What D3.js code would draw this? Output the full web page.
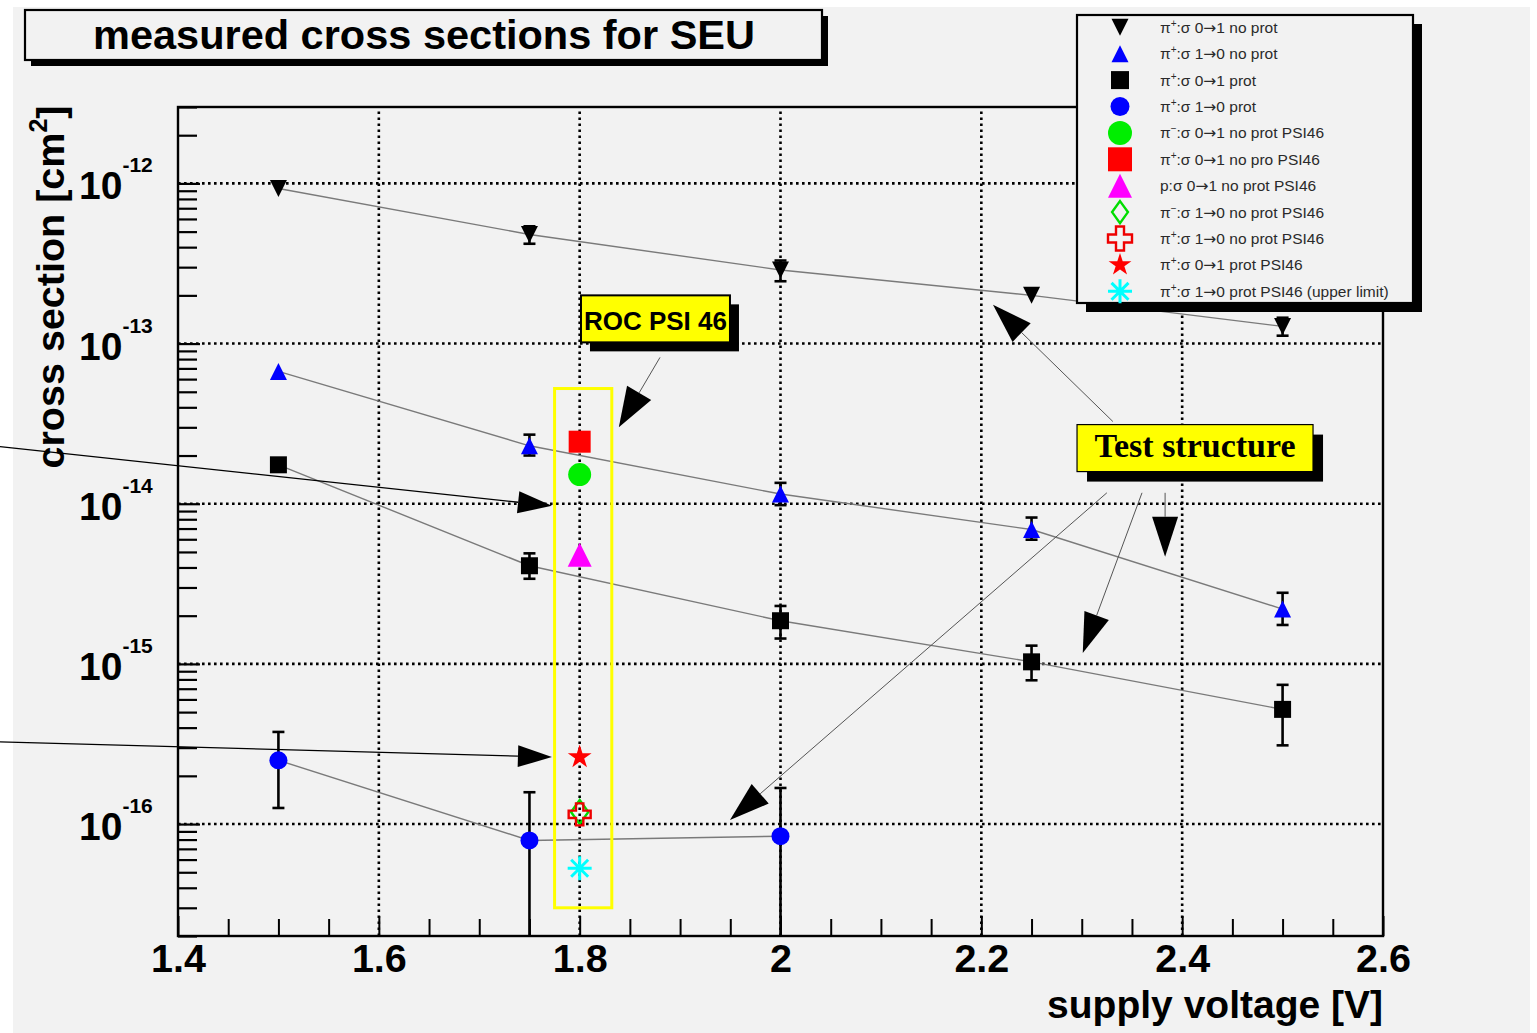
<!DOCTYPE html>
<html>
<head>
<meta charset="utf-8">
<script src="https://cdn.jsdelivr.net/npm/d3@7"></script>
<style>
  html, body { margin: 0; padding: 0; background: #ffffff; }
  svg { display: block; }
</style>
</head>
<body>
<div id="chart"></div>
<script>
// DATA ---------------------------------------------------------------------
const voltages = [1.5, 1.75, 2.0, 2.25, 2.5];

// pi+ : sigma 0->1 no prot
const piPlus01NoProt     = [9.3e-13, 4.8e-13, 2.88e-13, 2.0e-13, 1.28e-13];
const piPlus01NoProtLow  = [null, 4.2e-13, 2.45e-13, null, 1.12e-13];
const piPlus01NoProtHigh = [null, 5.4e-13, 3.3e-13, null, 1.45e-13];

// pi+ : sigma 1->0 no prot
const piPlus10NoProt     = [6.7e-14, 2.3e-14, 1.15e-14, 6.9e-15, 2.2e-15];
const piPlus10NoProtLow  = [null, 2.0e-14, 9.8e-15, 5.96e-15, 1.75e-15];
const piPlus10NoProtHigh = [null, 2.7e-14, 1.35e-14, 8.2e-15, 2.78e-15];

// pi+ : sigma 0->1 prot
const piPlus01Prot     = [1.75e-14, 4.1e-15, 1.86e-15, 1.03e-15, 5.2e-16];
const piPlus01ProtLow  = [null, 3.4e-15, 1.44e-15, 7.9e-16, 3.1e-16];
const piPlus01ProtHigh = [null, 4.9e-15, 2.3e-15, 1.3e-15, 7.4e-16];

// pi+ : sigma 1->0 prot (only three voltages, lower errors run off the axis)
const protVoltages   = [1.5, 1.75, 2.0];
const piPlus10Prot     = [2.5e-16, 7.9e-17, 8.4e-17];
const piPlus10ProtLow  = [1.26e-16, 1e-18, 1e-18];
const piPlus10ProtHigh = [3.76e-16, 1.58e-16, 1.68e-16];

// ROC PSI46 points, all at 1.8 V (legend order)
const psiVoltage = 1.8;
const psiValues = [1.52e-14, 2.44e-14, 4.8e-15, 1.19e-16, 1.15e-16, 2.62e-16, 5.3e-17];

// legend labels (ROOT latex style superscripts)
const legendLabels = [
  "\u03c0^{+}:\u03c3 0\u21921 no prot",
  "\u03c0^{+}:\u03c3 1\u21920 no prot",
  "\u03c0^{+}:\u03c3 0\u21921 prot",
  "\u03c0^{+}:\u03c3 1\u21920 prot",
  "\u03c0^{\u2212}:\u03c3 0\u21921 no prot PSI46",
  "\u03c0^{+}:\u03c3 0\u21921 no pro PSI46",
  "p:\u03c3 0\u21921 no prot PSI46",
  "\u03c0^{\u2212}:\u03c3 1\u21920 no prot PSI46",
  "\u03c0^{+}:\u03c3 1\u21920 no prot PSI46",
  "\u03c0^{+}:\u03c3 0\u21921 prot PSI46",
  "\u03c0^{+}:\u03c3 1\u21920 prot PSI46 (upper limit)"
];

const xTickValues = [1.4, 1.6, 1.8, 2.0, 2.2, 2.4, 2.6];
const yDecades = [1e-12, 1e-13, 1e-14, 1e-15, 1e-16];
const yDecadeLabels = ["10^{-12}", "10^{-13}", "10^{-14}", "10^{-15}", "10^{-16}"];

const titleText = "measured cross sections for SEU";
const xTitle = "supply voltage [V]";
const yTitle = "cross section [cm^{2}]";

// annotations, in data coordinates [voltage, cross section]
const rocBoxAnchor = [1.8013, 2.0e-13];
const testBoxAnchor = [2.2953, 3.12e-14];
const psiFrame = [[1.775, 5.24e-14], [1.832, 3.0e-17]];
const rocArrows = [[[1.88, 8.2e-14], [1.839, 3.0e-14]]];
const testArrows = [
  [[2.331, 3.26e-14], [2.2116, 1.75e-13]],
  [[2.383, 1.17e-14], [2.383, 4.67e-15]],
  [[2.36, 1.17e-14], [2.301, 1.17e-15]],
  [[2.325, 1.17e-14], [1.9497, 1.06e-16]]
];
const sideArrows = [
  [[1.2227, 2.27e-14], [1.7724, 9.7e-15]],
  [[1.2227, 3.26e-16], [1.7724, 2.62e-16]]
];

// CHART ----------------------------------------------------------------------
class SeuChart {
  constructor(div) {
    this.elements = { container: div };
    this.settings = {
      width: 1537,
      height: 1033,
      frame: { left: 178, right: 1383, top: 107, bottom: 936 },
      bg: "#f2f2f2",
      sans: "'Liberation Sans', Arial, Helvetica, sans-serif",
      serif: "'Liberation Serif', 'Times New Roman', serif",
    };
    this.data = {
      series: [
        { x: voltages, y: piPlus01NoProt, lo: piPlus01NoProtLow, hi: piPlus01NoProtHigh,
          style: { marker: "triDown", color: "#000", size: 17 } },
        { x: voltages, y: piPlus10NoProt, lo: piPlus10NoProtLow, hi: piPlus10NoProtHigh,
          style: { marker: "triUp", color: "#0000ff", size: 17 } },
        { x: voltages, y: piPlus01Prot, lo: piPlus01ProtLow, hi: piPlus01ProtHigh,
          style: { marker: "square", color: "#000", size: 17 } },
        { x: protVoltages, y: piPlus10Prot, lo: piPlus10ProtLow, hi: piPlus10ProtHigh,
          style: { marker: "circle", color: "#0000ff", size: 18 } },
      ],
      psiStyles: [
        { marker: "circle", color: "#00ee00", size: 23 },
        { marker: "square", color: "#ff0000", size: 22 },
        { marker: "triUp", color: "#ff00ff", size: 24 },
        { marker: "diamond", color: "#00dd00", size: 24, open: true },
        { marker: "cross", color: "#ee0000", size: 22, open: true },
        { marker: "star", color: "#ff0000", size: 25 },
        { marker: "asterisk", color: "#00ffff", size: 24, open: true },
      ],
    };
  }

  //CONTROLLER -----------------------------------------------------------------
  renderChart() {
    this.createSvg();
    this.createScales();
    this.drawGrid();
    this.drawAxes();
    this.drawSeries();
    this.drawPsiPoints();
    this.drawAnnotations();
    this.drawTitle();
    this.drawLegend();
  }

  //MAIN -----------------------------------------------------------------------
  createSvg() {
    const { width, height, bg } = this.settings;
    this.elements.svg = d3.select(this.elements.container)
      .append("svg")
      .attr("width", width)
      .attr("height", height);
    this.elements.svg.append("rect")
      .attr("x", 13).attr("y", 7)
      .attr("width", 1517).attr("height", height - 7)
      .attr("fill", bg);
  }

  createScales() {
    const { frame } = this.settings;
    this.x = d3.scaleLinear().domain([1.4, 2.6]).range([frame.left, frame.right]);
    this.y = d3.scaleLog().domain([2e-17, 3e-12]).range([frame.bottom, frame.top]);
  }

  drawGrid() {
    const { svg } = this.elements;
    const { frame } = this.settings;
    const g = svg.append("g").attr("class", "grid")
      .attr("stroke", "#000").attr("stroke-width", 2.6)
      .attr("stroke-dasharray", "2.6,3.4");
    g.selectAll(".vgrid").data(xTickValues.slice(1, -1)).enter()
      .append("line")
      .attr("x1", d => this.x(d)).attr("x2", d => this.x(d))
      .attr("y1", frame.bottom).attr("y2", frame.top);
    g.selectAll(".hgrid").data(yDecades).enter()
      .append("line")
      .attr("x1", frame.left).attr("x2", frame.right)
      .attr("y1", d => this.y(d)).attr("y2", d => this.y(d));
  }

  drawAxes() {
    const { svg } = this.elements;
    const { frame, sans } = this.settings;

    // x axis, ticks every 0.05, labels every 0.2
    const xMinor = d3.range(1.4, 2.6001, 0.05).map(v => +v.toFixed(2));
    const isMajorX = v => Math.abs(v * 5 - Math.round(v * 5)) < 1e-6;
    const xAxis = d3.axisBottom(this.x)
      .tickValues(xMinor)
      .tickSizeInner(-17).tickSizeOuter(0).tickPadding(8)
      .tickFormat(v => isMajorX(v) ? d3.format("")(+v.toFixed(1)) : "");
    const gx = svg.append("g")
      .attr("transform", `translate(0,${frame.bottom})`)
      .call(xAxis);
    gx.select(".domain").remove();
    gx.selectAll(".tick line").attr("stroke", "#000").attr("stroke-width", 2)
      .attr("y2", v => isMajorX(v) ? -20 : -17);
    gx.selectAll(".tick text")
      .attr("fill", "#000")
      .style("font-family", sans).style("font-weight", "bold").style("font-size", "39.5px");

    // y axis, log ticks 1..9 per decade
    const yTicks = [];
    for (let e = -17; e <= -12; e++) {
      for (let m = 1; m <= 9; m++) {
        const v = m * Math.pow(10, e);
        if (v >= 2e-17 && v <= 3e-12) yTicks.push(v);
      }
    }
    const yAxis = d3.axisLeft(this.y)
      .tickValues(yTicks).tickSizeInner(-19).tickSizeOuter(0).tickFormat("");
    const gy = svg.append("g")
      .attr("transform", `translate(${frame.left},0)`)
      .call(yAxis);
    gy.select(".domain").remove();
    gy.selectAll(".tick line").attr("stroke", "#000").attr("stroke-width", 2.2)
      .attr("x2", v => yDecades.some(d => Math.abs(v / d - 1) < 1e-6) ? 22 : 19);

    // decade labels 10^{-n}
    yDecades.forEach((d, i) => {
      const t = svg.append("text")
        .attr("x", 79).attr("y", this.y(d) + 16)
        .style("font-family", sans).style("font-weight", "bold").style("font-size", "39px");
      this.addLatex(t, yDecadeLabels[i], 21, 27);
    });

    // frame
    svg.append("rect")
      .attr("x", frame.left).attr("y", frame.top)
      .attr("width", frame.right - frame.left).attr("height", frame.bottom - frame.top)
      .attr("fill", "none").attr("stroke", "#000").attr("stroke-width", 2.4);

    // axis titles
    svg.append("text")
      .attr("x", frame.right).attr("y", 1018)
      .attr("text-anchor", "end")
      .style("font-family", sans).style("font-weight", "bold").style("font-size", "39px")
      .text(xTitle);

    const yt = svg.append("text")
      .attr("transform", "translate(64,287) rotate(-90)")
      .attr("text-anchor", "middle")
      .style("font-family", sans).style("font-weight", "bold").style("font-size", "39.5px");
    this.addLatex(yt, yTitle, 25, 17);
  }

  drawSeries() {
    const { svg } = this.elements;
    const [yMin] = this.y.domain();
    const line = d3.line().x(d => this.x(d[0])).y(d => this.y(d[1]));

    const g = svg.append("g").attr("class", "series");
    this.data.series.forEach(s => {
      const pts = s.x.map((v, i) => [v, s.y[i], s.lo[i], s.hi[i]]);
      g.append("path")
        .attr("d", line(pts))
        .attr("fill", "none").attr("stroke", "#7a7a7a").attr("stroke-width", 1.4);

      const err = g.append("g").attr("stroke", "#000").attr("stroke-width", 2.6);
      pts.filter(p => p[2] != null).forEach(p => {
        const px = this.x(p[0]);
        const yLo = this.y(Math.max(p[2], yMin));
        const yHi = this.y(p[3]);
        err.append("line").attr("x1", px).attr("x2", px).attr("y1", yHi).attr("y2", yLo);
        err.append("line").attr("x1", px - 6).attr("x2", px + 6).attr("y1", yHi).attr("y2", yHi);
        if (p[2] > yMin) {
          err.append("line").attr("x1", px - 6).attr("x2", px + 6).attr("y1", yLo).attr("y2", yLo);
        }
      });

      g.selectAll(null).data(pts).enter()
        .append("path")
        .attr("transform", d => `translate(${this.x(d[0])},${this.y(d[1])})`)
        .call(sel => this.styleMarker(sel, s.style));
    });
  }

  drawPsiPoints() {
    const { svg } = this.elements;
    const { psiStyles } = this.data;
    const g = svg.append("g").attr("class", "psi");
    // diamond comes before cross so the cross sits on top
    psiValues.forEach((v, i) => {
      g.append("path")
        .attr("transform", `translate(${this.x(psiVoltage)},${this.y(v)})`)
        .call(sel => this.styleMarker(sel, psiStyles[i]));
    });
  }

  drawAnnotations() {
    const { svg } = this.elements;
    const { sans, serif } = this.settings;
    const g = svg.append("g").attr("class", "annotations");

    // yellow frame around the PSI46 points
    const [p0, p1] = psiFrame;
    g.append("rect")
      .attr("x", this.x(p0[0])).attr("y", this.y(p0[1]))
      .attr("width", this.x(p1[0]) - this.x(p0[0]))
      .attr("height", this.y(p1[1]) - this.y(p0[1]))
      .attr("fill", "none").attr("stroke", "#ffff00").attr("stroke-width", 3);

    sideArrows.forEach(a => this.drawArrow(g, a, "#000", 1.3, 34, 11));
    rocArrows.forEach(a => this.drawArrow(g, a, "#555", 1, 40, 14));
    testArrows.forEach(a => this.drawArrow(g, a, "#555", 1, 40, 13));

    // ROC PSI 46 label
    const rx = this.x(rocBoxAnchor[0]), ry = this.y(rocBoxAnchor[1]);
    this.drawShadowBox(g, rx, ry, 149, 47, 9, "#ffff00", 2);
    g.append("text")
      .attr("x", rx + 149 / 2).attr("y", ry + 35)
      .attr("text-anchor", "middle")
      .style("font-family", sans).style("font-weight", "bold").style("font-size", "26px")
      .text("ROC PSI 46");

    // Test structure label
    const tx = this.x(testBoxAnchor[0]), ty = this.y(testBoxAnchor[1]);
    this.drawShadowBox(g, tx, ty, 236, 47, 10, "#ffff00", 1.2);
    g.append("text")
      .attr("x", tx + 236 / 2).attr("y", ty + 32)
      .attr("text-anchor", "middle")
      .style("font-family", serif).style("font-weight", "bold").style("font-size", "34px")
      .text("Test structure");
  }

  drawTitle() {
    const { svg } = this.elements;
    const { sans, bg } = this.settings;
    this.drawShadowBox(svg, 25, 10, 797, 50, 6, bg, 2.2);
    svg.append("text")
      .attr("x", 424).attr("y", 49)
      .attr("text-anchor", "middle")
      .style("font-family", sans).style("font-weight", "bold").style("font-size", "41.5px")
      .text(titleText);
  }

  drawLegend() {
    const { svg } = this.elements;
    const { sans, bg } = this.settings;
    const box = { x: 1077, y: 15, w: 336, h: 288 };
    this.drawShadowBox(svg, box.x, box.y, box.w, box.h, 9, bg, 2.2);

    const styles = this.data.series.map(s => s.style).concat(this.data.psiStyles);
    const legendSizes = [17, 17, 18, 19, 24, 24, 24, 22, 24, 24, 24];
    const rowY = i => 27.3 + i * 26.4;

    const rows = svg.append("g").attr("class", "legend")
      .selectAll("g").data(legendLabels).enter()
      .append("g")
      .attr("transform", (d, i) => `translate(0,${rowY(i)})`);

    rows.append("path")
      .attr("transform", "translate(1120,0)")
      .each(function (d, i) {
        const st = Object.assign({}, styles[i], { size: legendSizes[i] });
        chart.styleMarker(d3.select(this), st);
      });

    rows.append("text")
      .attr("x", 1160).attr("y", 5.5)
      .attr("fill", "#2a2a2a")
      .style("font-family", sans).style("font-size", "15.5px")
      .each(function (d) { chart.addLatex(d3.select(this), d, 10, 6); });
  }

  //ADDITIONAL -----------------------------------------------------------------
  addLatex(textSel, str, supSize, supShift) {
    const parts = str.split(/\^\{([^}]*)\}/);
    let raised = false;
    parts.forEach((p, i) => {
      if (p === "") return;
      if (i % 2 === 1) {
        textSel.append("tspan").text(p)
          .style("font-size", supSize + "px").attr("dy", -supShift);
        raised = true;
        return;
      }
      // arrows look better in DejaVu, the sans arrow glyph is tiny
      p.split(/(\u2192)/).forEach(q => {
        if (q === "") return;
        const t = textSel.append("tspan").text(q);
        if (q === "\u2192") t.style("font-family", "'DejaVu Sans', sans-serif");
        if (raised) { t.attr("dy", supShift); raised = false; }
      });
    });
  }

  drawShadowBox(parent, x, y, w, h, off, fill, stroke) {
    parent.append("rect")
      .attr("x", x + off).attr("y", y + off).attr("width", w).attr("height", h)
      .attr("fill", "#000");
    parent.append("rect")
      .attr("x", x).attr("y", y).attr("width", w).attr("height", h)
      .attr("fill", fill).attr("stroke", "#000").attr("stroke-width", stroke);
  }

  drawArrow(parent, a, color, width, headLen, headHalf) {
    const [x1, y1] = [this.x(a[0][0]), this.y(a[0][1])];
    const [x2, y2] = [this.x(a[1][0]), this.y(a[1][1])];
    const len = Math.hypot(x2 - x1, y2 - y1);
    const ux = (x2 - x1) / len, uy = (y2 - y1) / len;
    const bx = x2 - ux * headLen, by = y2 - uy * headLen;
    parent.append("line")
      .attr("x1", x1).attr("y1", y1).attr("x2", bx).attr("y2", by)
      .attr("stroke", color).attr("stroke-width", width);
    parent.append("path")
      .attr("d", `M${x2},${y2}L${bx - uy * headHalf},${by + ux * headHalf}L${bx + uy * headHalf},${by - ux * headHalf}Z`)
      .attr("fill", "#000");
  }

  markerPath(type, s) {
    const h = s / 2;
    switch (type) {
      case "triUp": return `M0,${-h}L${h},${h}L${-h},${h}Z`;
      case "triDown": return `M0,${h}L${h},${-h}L${-h},${-h}Z`;
      case "square": return `M${-h},${-h}h${s}v${s}h${-s}Z`;
      case "circle": return d3.symbol(d3.symbolCircle, Math.PI * h * h)();
      case "diamond": {
        const w = s * 0.36;
        return `M0,${-h}L${w},0L0,${h}L${-w},0Z`;
      }
      case "cross": {
        const a = s / 6;
        return `M${-a},${-h}H${a}V${-a}H${h}V${a}H${a}V${h}H${-a}V${a}H${-h}V${-a}H${-a}Z`;
      }
      case "star": return d3.symbol(d3.symbolStar, (h * h) / 0.8908130915292852)();
      case "asterisk": {
        const d = h * 0.7071;
        return `M0,${-h}V${h}M${-h},0H${h}M${-d},${-d}L${d},${d}M${-d},${d}L${d},${-d}`;
      }
    }
  }

  styleMarker(sel, st) {
    sel.attr("d", this.markerPath(st.marker, st.size));
    if (st.open) {
      sel.attr("fill", "none").attr("stroke", st.color)
        .attr("stroke-width", st.marker === "asterisk" ? 3 : 2.4);
    } else {
      sel.attr("fill", st.color).attr("stroke", "none");
    }
  }
}

const chart = new SeuChart(document.getElementById("chart"));
chart.renderChart();
</script>
</body>
</html>
